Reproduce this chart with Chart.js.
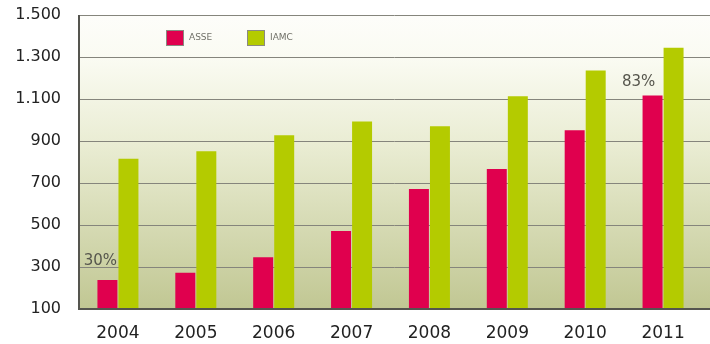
<!DOCTYPE html>
<html>
<head>
<meta charset="utf-8">
<script src="https://cdn.jsdelivr.net/npm/chart.js@4/dist/chart.umd.min.js"></script>
<style>
html,body{margin:0;padding:0;background:#fff;}
#wrap{width:710px;height:344px;position:relative;}
</style>
</head>
<body>
<div id="wrap"><canvas id="c" width="710" height="344"></canvas></div>
<script>
const categories = ["2004","2005","2006","2007","2008","2009","2010","2011"];
const asseValues = [238, 273, 347, 472, 671, 767, 951, 1117];
const iamcValues = [816, 851, 927, 993, 970, 1113, 1236, 1344];
const seriesNames = ["ASSE", "IAMC"];
const yTicks = [100, 300, 500, 700, 900, 1100, 1300, 1500];
const annotations = [
  {index: 0, text: "30%", dx: -7, dy: -19},
  {index: 7, text: "83%", dx: -14, dy: -13}
];

function fmt(v){ return String(v).replace(/\B(?=(\d{3})+(?!\d))/g, "."); }

const bgPlugin = {
  id: 'bg',
  beforeDatasetsDraw(chart){
    const {ctx, chartArea} = chart;
    const y = chart.scales.y;
    const right = chart.width;
    ctx.save();
    const g = ctx.createLinearGradient(0, chartArea.top, 0, chartArea.bottom);
    g.addColorStop(0, '#fdfdfa');
    g.addColorStop(0.15, '#fafbf2');
    g.addColorStop(0.45, '#e9ecd2');
    g.addColorStop(1, '#c1c793');
    ctx.fillStyle = g;
    ctx.fillRect(chartArea.left, chartArea.top, right - chartArea.left, chartArea.bottom - chartArea.top);
    ctx.strokeStyle = '#85857c';
    ctx.lineWidth = 1;
    yTicks.forEach(t => {
      if (t === yTicks[0]) return;
      const py = Math.round(y.getPixelForValue(t)) + 0.5;
      ctx.beginPath(); ctx.moveTo(chartArea.left, py); ctx.lineTo(right, py); ctx.stroke();
    });
    ctx.restore();
  },
  afterDatasetsDraw(chart){
    const {ctx, chartArea} = chart;
    const right = chart.width;
    ctx.save();
    ctx.strokeStyle = '#55554f';
    ctx.lineWidth = 2;
    ctx.beginPath();
    ctx.moveTo(chartArea.left, chartArea.top);
    ctx.lineTo(chartArea.left, chartArea.bottom);
    ctx.lineTo(right, chartArea.bottom);
    ctx.stroke();
    // annotations
    const meta = chart.getDatasetMeta(0);
    ctx.font = '15px "DejaVu Sans"';
    ctx.fillStyle = '#55554c';
    ctx.textAlign = 'center';
    ctx.textBaseline = 'middle';
    annotations.forEach(a => {
      const el = meta.data[a.index];
      ctx.fillText(a.text, el.x + a.dx, el.y + a.dy);
    });
    // legend
    ctx.font = '9px "DejaVu Sans"';
    ctx.textAlign = 'left';
    const legX = [166, 247];
    chart.data.datasets.forEach((ds, i) => {
      const x = legX[i], yy = chartArea.top + 15;
      ctx.fillStyle = ds.backgroundColor;
      ctx.fillRect(x, yy, 18, 16);
      ctx.strokeStyle = '#8a8a80';
      ctx.lineWidth = 1;
      ctx.strokeRect(x + 0.5, yy + 0.5, 17, 15);
      ctx.fillStyle = '#707068';
      ctx.fillText(ds.label, x + 23, yy + 8);
    });
    ctx.restore();
  }
};

new Chart(document.getElementById('c'), {
  type: 'bar',
  data: {
    labels: categories,
    datasets: [
      {label: seriesNames[0], data: asseValues, backgroundColor: '#e0004e', borderWidth: 0},
      {label: seriesNames[1], data: iamcValues, backgroundColor: '#b4cb00', borderWidth: 0}
    ]
  },
  options: {
    responsive: false,
    animation: false,
    layout: {padding: {top: 15, right: 8, left: 0, bottom: 0}},
    plugins: {legend: {display: false}, tooltip: {enabled: false}},
    datasets: {bar: {categoryPercentage: 0.54, barPercentage: 0.95}},
    scales: {
      x: {
        grid: {display: false, drawTicks: false},
        border: {display: false},
        ticks: {color: '#222', font: {family: '"DejaVu Sans"', size: 17}, padding: 14, maxRotation: 0},
        afterFit(s){ s.height = 35; s.paddingLeft = 0; s.paddingRight = 0; }
      },
      y: {
        min: 100, max: 1500,
        afterBuildTicks(s){ s.ticks = yTicks.map(v => ({value: v})); },
        grid: {display: false, drawTicks: false},
        border: {display: false},
        ticks: {color: '#222', font: {family: '"DejaVu Sans"', size: 16}, padding: 18, callback: v => fmt(v)},
        afterFit(s){ s.width = 79; s.paddingTop = 0; s.paddingBottom = 0; }
      }
    }
  },
  plugins: [bgPlugin]
});
</script>
</body>
</html>
